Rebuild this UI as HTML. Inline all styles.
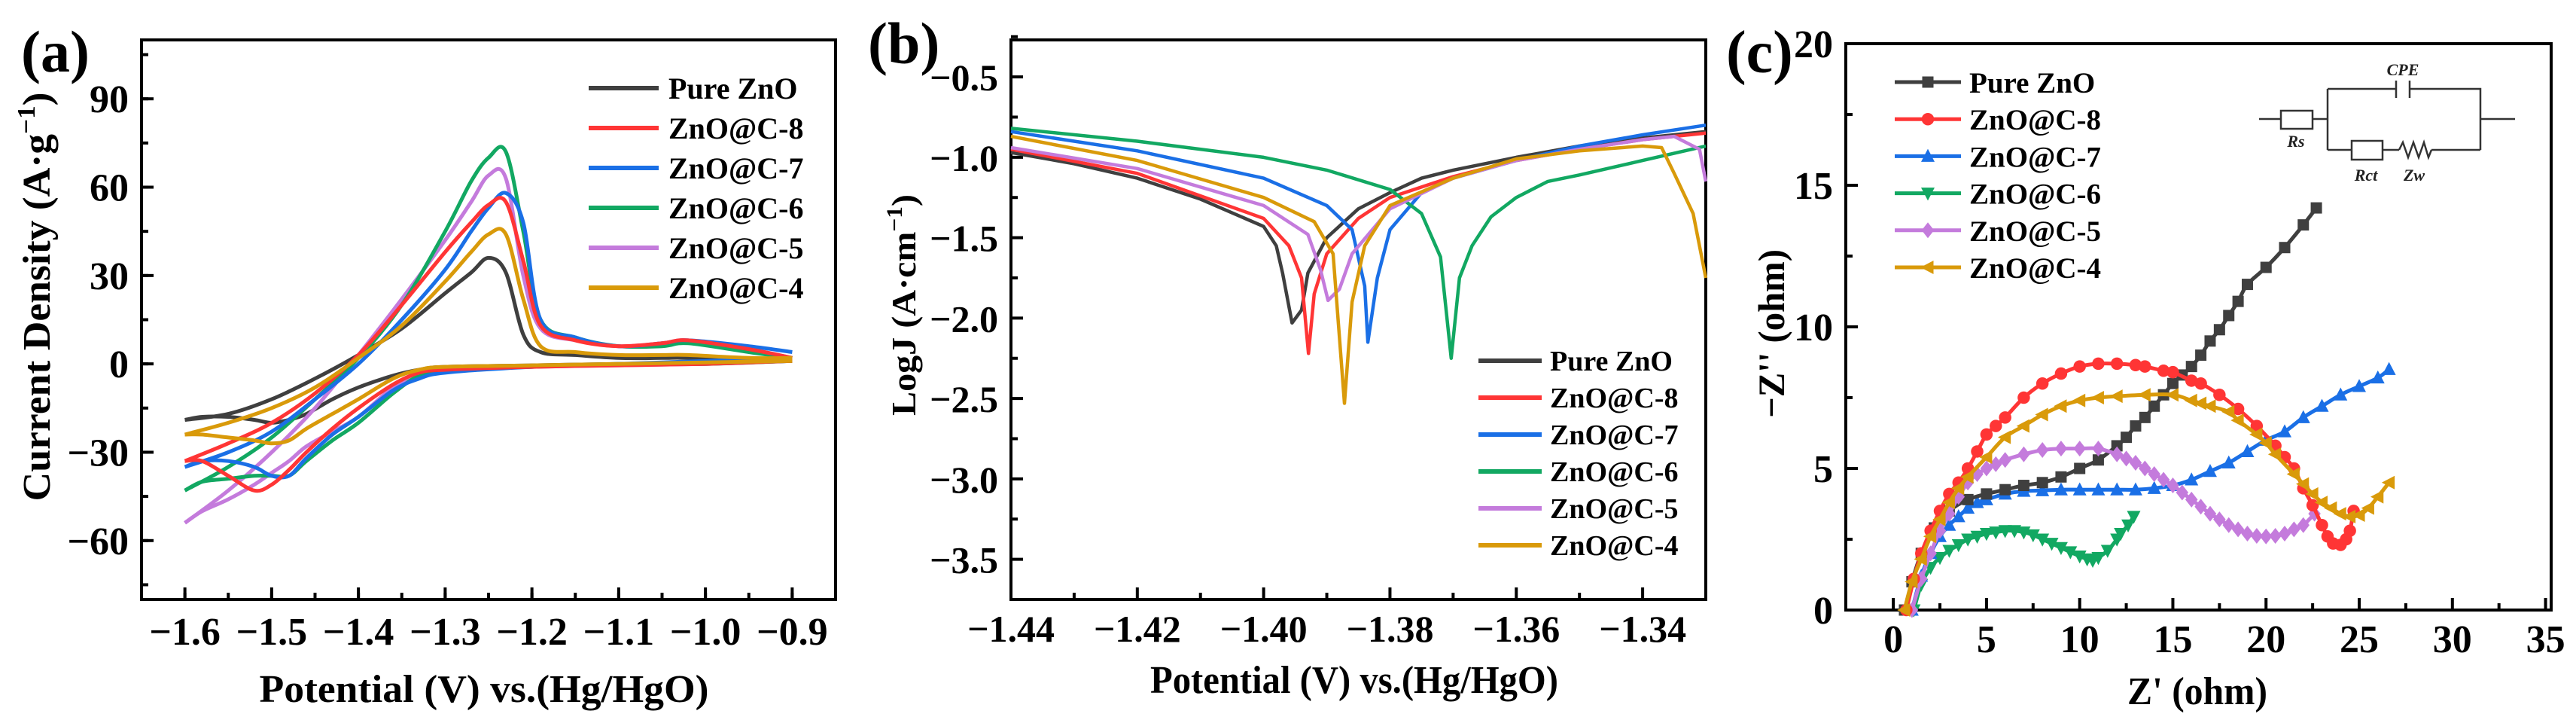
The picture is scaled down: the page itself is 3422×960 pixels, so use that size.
<!DOCTYPE html>
<html><head><meta charset="utf-8"><title>ZnO@C electrochemistry figure</title>
<style>
html,body{margin:0;padding:0;background:#fff;}
svg{display:block;font-family:"Liberation Serif","Times New Roman",Times,serif;font-weight:bold;}
svg text{font-family:"Liberation Serif","Times New Roman",Times,serif;}
</style></head>
<body>
<svg id="fig" width="3422" height="960" viewBox="0 0 3422 960" font-family="Liberation Serif, serif" font-weight="bold" xmlns="http://www.w3.org/2000/svg"></svg>
<script>
// ---------- shared ----------
const seriesNames = ['Pure ZnO','ZnO@C-8','ZnO@C-7','ZnO@C-6','ZnO@C-5','ZnO@C-4'];
const seriesColors = ['#3f3f3f','#ff3535','#1a6fe6','#12a862','#c47bdc','#d99a0a'];
const seriesKeys = ['pure-zno','zno-c-8','zno-c-7','zno-c-6','zno-c-5','zno-c-4'];

// ---------- panel (a) CV data ----------
const cvUpperV = [-1.6,-1.55,-1.5,-1.45,-1.4,-1.35,-1.3,-1.27,-1.25,-1.23,-1.21,-1.19,-1.15,-1.1,-1.05,-1.02,-0.95,-0.9];
const cvUpperPure = [-19,-17,-12,-5,3,12,24,31,36,31,10,4,3,2,2,2,1,1];
const cvUpperC8 = [-33,-27,-20,-10,3,20,38,48,54,55,35,13,8,6,7,8,5,2];
const cvUpperC7 = [-35,-30,-23,-12,0,15,32,45,53,58,48,15,9,6,7,8,6,4];
const cvUpperC6 = [-43,-35,-25,-12,2,20,45,62,70,72,45,15,9,6,6,7,4,2];
const cvUpperC5 = [-54,-43,-30,-15,3,22,42,55,64,63,30,12,8,6,7,8,5,2];
const cvUpperC4 = [-24,-20,-15,-8,2,13,28,38,44,44,22,6,4,3,3,3,2,2];
const cvLowerV = [-0.9,-1.0,-1.1,-1.2,-1.3,-1.33,-1.36,-1.4,-1.43,-1.46,-1.48,-1.5,-1.52,-1.55,-1.58,-1.6];
const cvLowerPure = [1,0.5,0,-0.5,-1,-2,-4,-8,-12,-17,-19,-20,-19,-18,-18,-19];
const cvLowerC8 = [1,0,-0.5,-1,-2,-3,-7,-15,-22,-30,-36,-41,-43,-38,-33,-33];
const cvLowerC7 = [2,1,0,-1,-3,-5,-9,-18,-24,-32,-38,-38,-35,-33,-33,-35];
const cvLowerC6 = [1,0,0,-1,-2,-4,-10,-20,-26,-33,-38,-38,-38,-39,-40,-43];
const cvLowerC5 = [1,0,-0.5,-1,-2,-4,-8,-18,-23,-28,-33,-37,-41,-46,-50,-54];
const cvLowerC4 = [1,0.5,0,-0.5,-1,-2,-5,-12,-17,-22,-26,-27,-26,-25,-24,-24];
const aXTicks = [-1.6,-1.5,-1.4,-1.3,-1.2,-1.1,-1.0,-0.9];
const aYTicks = [-60,-30,0,30,60,90];

// ---------- panel (b) Tafel data ----------
const tafPureX = [-1.44,-1.43,-1.42,-1.41,-1.40,-1.398,-1.397,-1.3955,-1.394,-1.393,-1.39,-1.385,-1.38,-1.375,-1.37,-1.36,-1.35,-1.34,-1.33];
const tafPureY = [-0.97,-1.04,-1.13,-1.26,-1.43,-1.55,-1.72,-2.03,-1.95,-1.72,-1.5,-1.32,-1.22,-1.13,-1.08,-1.0,-0.93,-0.88,-0.84];
const tafC8X = [-1.44,-1.42,-1.40,-1.396,-1.394,-1.3929,-1.392,-1.39,-1.385,-1.38,-1.37,-1.36,-1.35,-1.34,-1.33];
const tafC8Y = [-0.95,-1.1,-1.38,-1.55,-1.75,-2.22,-1.85,-1.6,-1.38,-1.25,-1.12,-1.02,-0.95,-0.89,-0.85];
const tafC7X = [-1.44,-1.42,-1.40,-1.39,-1.386,-1.384,-1.3835,-1.382,-1.38,-1.375,-1.37,-1.36,-1.35,-1.34,-1.33];
const tafC7Y = [-0.84,-0.96,-1.13,-1.3,-1.45,-1.8,-2.15,-1.75,-1.45,-1.22,-1.13,-1.02,-0.93,-0.86,-0.80];
const tafC6X = [-1.44,-1.42,-1.40,-1.39,-1.38,-1.375,-1.372,-1.3703,-1.369,-1.367,-1.364,-1.36,-1.355,-1.35,-1.34,-1.33];
const tafC6Y = [-0.82,-0.9,-1.0,-1.08,-1.2,-1.35,-1.62,-2.25,-1.75,-1.55,-1.37,-1.25,-1.15,-1.11,-1.02,-0.93];
const tafC5X = [-1.44,-1.42,-1.40,-1.393,-1.391,-1.3898,-1.388,-1.386,-1.38,-1.37,-1.36,-1.35,-1.34,-1.335,-1.331,-1.33];
const tafC5Y = [-0.94,-1.07,-1.3,-1.48,-1.7,-1.89,-1.82,-1.6,-1.32,-1.13,-1.02,-0.95,-0.89,-0.87,-0.95,-1.15];
const tafC4X = [-1.44,-1.42,-1.40,-1.392,-1.389,-1.3872,-1.386,-1.384,-1.38,-1.37,-1.36,-1.35,-1.34,-1.337,-1.335,-1.332,-1.33];
const tafC4Y = [-0.87,-1.02,-1.25,-1.4,-1.6,-2.53,-1.9,-1.55,-1.3,-1.13,-1.01,-0.96,-0.93,-0.94,-1.1,-1.35,-1.75];
const bXTicks = [-1.44,-1.42,-1.40,-1.38,-1.36,-1.34];
const bYTicks = [-3.5,-3.0,-2.5,-2.0,-1.5,-1.0,-0.5];

// ---------- panel (c) Nyquist data ----------
const nyqPureX = [0.6,1.0,1.5,2.2,3,4,5,6,7,8,9,10,11,12,12.5,13,13.5,14,14.5,15,15.5,16,16.5,17,17.5,18,18.5,19,20,21,22,22.7];
const nyqPureY = [0,1,2,2.9,3.5,3.9,4.1,4.25,4.4,4.5,4.7,5,5.3,5.8,6.1,6.5,6.8,7.2,7.6,8,8.3,8.6,9.0,9.5,9.9,10.4,10.9,11.5,12.1,12.8,13.6,14.2];
const nyqC8X = [0.7,1.1,1.5,2,2.5,3,3.5,4,4.5,5,5.5,6,7,8,9,10,11,12,13,13.5,14.5,15,16,16.5,17.5,18.5,19.5,20.5,21,21.5,22,22.5,23,23.3,23.6,24,24.3,24.5,24.7];
const nyqC8Y = [0,1.1,2,2.8,3.5,4.1,4.5,5,5.6,6.2,6.5,6.8,7.5,8,8.35,8.6,8.7,8.7,8.65,8.6,8.45,8.4,8.1,8,7.6,7.1,6.5,5.8,5.4,5,4.3,3.7,3,2.6,2.35,2.3,2.5,2.8,3.5];
const nyqC7X = [1,1.5,2,2.5,3,3.5,4,4.5,5,6,7,8,9,10,11,12,13,14,15,16,17,18,19,20,21,22,23,24,25,26,26.6];
const nyqC7Y = [0,1.2,2,2.6,3,3.3,3.6,3.8,3.9,4.1,4.2,4.22,4.25,4.25,4.25,4.25,4.25,4.3,4.4,4.6,4.9,5.2,5.6,6,6.3,6.8,7.2,7.6,7.9,8.2,8.5];
const nyqC6X = [1.1,1.5,2,2.5,3,3.5,4,4.5,5,5.5,6,6.5,7,7.5,8,8.5,9,9.5,10,10.4,10.7,11,11.5,12,12.2,12.6,12.9];
const nyqC6Y = [0,0.9,1.5,1.85,2.1,2.3,2.5,2.6,2.7,2.75,2.8,2.8,2.75,2.65,2.5,2.35,2.2,2.05,1.9,1.8,1.75,1.85,2.1,2.5,2.7,3.0,3.3];
const nyqC5X = [1,1.5,2,2.5,3,3.5,4,4.5,5,5.5,6,7,8,9,10,11,12,12.5,13,13.5,14,14.5,15,15.5,16,16.5,17,17.5,18,18.5,19,19.5,20,20.5,21,21.5,22,22.6];
const nyqC5Y = [0,1.1,2,2.8,3.4,4,4.5,4.8,5,5.15,5.3,5.5,5.65,5.7,5.7,5.7,5.5,5.35,5.2,5.0,4.8,4.6,4.4,4.15,3.9,3.65,3.4,3.2,3,2.85,2.7,2.62,2.6,2.62,2.7,2.85,3.0,3.4];
const nyqC4X = [0.6,1,1.5,2,2.5,3,3.5,4,5,6,7,8,9,10,11,12,13.5,15,16,16.5,17,18,18.5,19.5,20,20.5,21.5,22,22.5,23,23.5,24,24.5,25,25.5,26,26.6];
const nyqC4Y = [0,1,1.8,2.6,3.2,3.8,4.3,4.7,5.4,6.1,6.5,6.9,7.2,7.4,7.5,7.55,7.6,7.6,7.4,7.3,7.2,7,6.7,6.2,5.9,5.5,4.8,4.45,4.1,3.8,3.6,3.4,3.3,3.35,3.6,4.0,4.5];
const cXTicks = [0,5,10,15,20,25,30,35];
const cYTicks = [0,5,10,15,20];

// ---------- helpers ----------
const NS = 'http://www.w3.org/2000/svg';
const svg = document.getElementById('fig');
function mk(tag, attrs, parent, text){
  const e = document.createElementNS(NS, tag);
  for (const k in attrs) e.setAttribute(k, attrs[k]);
  if (text !== undefined) e.textContent = text;
  (parent || svg).appendChild(e);
  return e;
}
function lin(d0,d1,p0,p1){ return v => p0 + (v-d0)/(d1-d0)*(p1-p0); }
function fmt(v, dec){ const s = v.toFixed(dec); return s.replace('-', '\u2212'); }
function smoothPath(pts){
  let d = 'M' + pts[0][0].toFixed(1) + ',' + pts[0][1].toFixed(1);
  for (let i=0;i<pts.length-1;i++){
    const p0 = pts[i-1]||pts[i], p1 = pts[i], p2 = pts[i+1], p3 = pts[i+2]||p2;
    const c1x = p1[0]+(p2[0]-p0[0])/6, c1y = p1[1]+(p2[1]-p0[1])/6;
    const c2x = p2[0]-(p3[0]-p1[0])/6, c2y = p2[1]-(p3[1]-p1[1])/6;
    d += ' C'+c1x.toFixed(1)+','+c1y.toFixed(1)+' '+c2x.toFixed(1)+','+c2y.toFixed(1)+' '+p2[0].toFixed(1)+','+p2[1].toFixed(1);
  }
  return d;
}
function linePath(pts){ return pts.map((p,i)=>(i?'L':'M')+p[0].toFixed(1)+','+p[1].toFixed(1)).join(' '); }

function drawAxes(g, box, sx, sy, xt, xminor, yt, yminor, xdec, ydec, fs, xLabBase, key){
  for (const v of xminor){
    const t = mk('line',{x1:sx(v),x2:sx(v),y1:box.b,y2:box.b-9,stroke:'#000','stroke-width':4},g);
    
    
  }
  for (const v of yminor){
    const t = mk('line',{x1:box.l,x2:box.l+9,y1:sy(v),y2:sy(v),stroke:'#000','stroke-width':4},g);
    
    
  }
  for (const v of xt){
    const t = mk('line',{x1:sx(v),x2:sx(v),y1:box.b,y2:box.b-16,stroke:'#000','stroke-width':4},g);
    
    
    const l = mk('text',{x:sx(v),y:xLabBase,'text-anchor':'middle','font-size':fs},g,fmt(v,xdec));
    
    
  }
  for (const v of yt){
    const t = mk('line',{x1:box.l,x2:box.l+16,y1:sy(v),y2:sy(v),stroke:'#000','stroke-width':4},g);
    
    
    const l = mk('text',{x:box.l-17,y:sy(v)+18,'text-anchor':'end','font-size':fs},g,fmt(v,ydec));
    
    
  }
  const r = mk('rect',{x:box.l,y:box.t,width:box.r-box.l,height:box.b-box.t,fill:'none',stroke:'#000','stroke-width':4},g);
  
  
}
function range(a,b,step){ const out=[]; for(let v=a; v<=b+1e-9; v+=step) out.push(Math.round(v*1e6)/1e6); return out; }

// ================= PANEL A =================
const gA = mk('g',{});


const boxA = {l:188,r:1110,t:53,b:796};
const sxA = lin(-1.65,-0.85,boxA.l,boxA.r);
const syA = lin(-80,110,boxA.b,boxA.t);
drawAxes(gA, boxA, sxA, syA, aXTicks, range(-1.65,-0.85,0.05), aYTicks, range(-75,105,15), 1, 0, 52, 856, 'panel-a');
const cvUp = [cvUpperPure,cvUpperC8,cvUpperC7,cvUpperC6,cvUpperC5,cvUpperC4];
const cvLo = [cvLowerPure,cvLowerC8,cvLowerC7,cvLowerC6,cvLowerC5,cvLowerC4];
const drawOrderA = [0,4,3,2,1,5];
for (const i of drawOrderA){
  const up = cvUpperV.map((v,j)=>[sxA(v),syA(cvUp[i][j])]);
  const lo = cvLowerV.map((v,j)=>[sxA(v),syA(cvLo[i][j])]);
  const p1 = mk('path',{d:smoothPath(up),fill:'none',stroke:seriesColors[i],'stroke-width':5,'stroke-linejoin':'round'},gA);
  
  
  const p2 = mk('path',{d:smoothPath(lo),fill:'none',stroke:seriesColors[i],'stroke-width':5,'stroke-linejoin':'round'},gA);
  
  
}
for (let i=0;i<6;i++){
  const y = 117 + i*53;
  const ln = mk('line',{x1:782,x2:875,y1:y,y2:y,stroke:seriesColors[i],'stroke-width':6},gA);
  
  
  const tx = mk('text',{x:888,y:y+14,'font-size':40},gA,seriesNames[i]);
  
  
}
const aLab = mk('text',{x:28,y:95,'font-size':78},gA,'(a)');


const aXT = mk('text',{x:643,y:932,'text-anchor':'middle','font-size':52,textLength:597,lengthAdjust:'spacingAndGlyphs'},gA,'Potential (V) vs.(Hg/HgO)');


const aYT = mk('text',{x:0,y:0,'text-anchor':'middle','font-size':52,textLength:543,lengthAdjust:'spacingAndGlyphs',transform:'translate(66,394) rotate(-90)'},gA);


mk('tspan',{},aYT,'Current Density (A\u00b7g');
mk('tspan',{dy:-20,'font-size':34},aYT,'\u22121');
mk('tspan',{dy:20},aYT,')');

// ================= PANEL B =================
const gB = mk('g',{});


const boxB = {l:1343,r:2266,t:53,b:796};
const sxB = lin(-1.44,-1.33,boxB.l,boxB.r);
const syB = lin(-3.75,-0.27,boxB.b,boxB.t);
drawAxes(gB, boxB, sxB, syB, bXTicks, range(-1.43,-1.33,0.02), bYTicks, range(-3.75,-0.25,0.5), 2, 1, 50, 852, 'panel-b');
const tafX = [tafPureX,tafC8X,tafC7X,tafC6X,tafC5X,tafC4X];
const tafY = [tafPureY,tafC8Y,tafC7Y,tafC6Y,tafC5Y,tafC4Y];
for (let i=0;i<6;i++){
  const pts = tafX[i].map((v,j)=>[sxB(v),syB(tafY[i][j])]);
  const p = mk('path',{d:linePath(pts),fill:'none',stroke:seriesColors[i],'stroke-width':4.5,'stroke-linejoin':'round'},gB);
  
  
}
for (let i=0;i<6;i++){
  const y = 479 + i*49;
  const ln = mk('line',{x1:1964,x2:2048,y1:y,y2:y,stroke:seriesColors[i],'stroke-width':6},gB);
  
  
  const tx = mk('text',{x:2059,y:y+13,'font-size':38},gB,seriesNames[i]);
  
  
}
const bLab = mk('text',{x:1153,y:84,'font-size':78},gB,'(b)');


const bXT = mk('text',{x:1799,y:920,'text-anchor':'middle','font-size':52,textLength:542,lengthAdjust:'spacingAndGlyphs'},gB,'Potential (V) vs.(Hg/HgO)');


const bYT = mk('text',{x:0,y:0,'text-anchor':'middle','font-size':46,textLength:294,lengthAdjust:'spacingAndGlyphs',transform:'translate(1216,405) rotate(-90)'},gB);


mk('tspan',{},bYT,'LogJ (A\u00b7cm');
mk('tspan',{dy:-18,'font-size':30},bYT,'\u22121');
mk('tspan',{dy:18},bYT,')');

// ================= PANEL C =================
const gC = mk('g',{});


const boxC = {l:2452,r:3389,t:58,b:810};
const sxC = lin(-2.55,35.3,boxC.l,boxC.r);
const syC = lin(0,20,boxC.b,boxC.t);
drawAxes(gC, boxC, sxC, syC, cXTicks, range(2.5,32.5,5), cYTicks, range(2.5,17.5,5), 0, 0, 52, 866, 'panel-c');
function marker(g, kind, x, y, color, s){
  let e;
  if (kind==='square') e = mk('rect',{x:x-s,y:y-s,width:2*s,height:2*s,fill:color},g);
  else if (kind==='circle') e = mk('circle',{cx:x,cy:y,r:s*1.1,fill:color},g);
  else if (kind==='up') e = mk('polygon',{points:`${x},${y-s*1.3} ${x+s*1.2},${y+s} ${x-s*1.2},${y+s}`,fill:color},g);
  else if (kind==='down') e = mk('polygon',{points:`${x},${y+s*1.3} ${x+s*1.2},${y-s} ${x-s*1.2},${y-s}`,fill:color},g);
  else if (kind==='diamond') e = mk('polygon',{points:`${x},${y-s*1.4} ${x+s*1.1},${y} ${x},${y+s*1.4} ${x-s*1.1},${y}`,fill:color},g);
  else e = mk('polygon',{points:`${x-s*1.3},${y} ${x+s},${y-s*1.2} ${x+s},${y+s*1.2}`,fill:color},g);
  return e;
}
const markerKinds = ['square','circle','up','down','diamond','left'];
const nyqX = [nyqPureX,nyqC8X,nyqC7X,nyqC6X,nyqC5X,nyqC4X];
const nyqY = [nyqPureY,nyqC8Y,nyqC7Y,nyqC6Y,nyqC5Y,nyqC4Y];
const drawOrderC = [3,2,0,4,1,5];
for (const i of drawOrderC){
  const pts = nyqX[i].map((v,j)=>[sxC(v),syC(nyqY[i][j])]);
  const p = mk('path',{d:smoothPath(pts),fill:'none',stroke:seriesColors[i],'stroke-width':5,'stroke-linejoin':'round'},gC);
  
  
  for (const pt of pts){
    const m = marker(gC, markerKinds[i], pt[0], pt[1], seriesColors[i], 7.5);
    
    
  }
}
for (let i=0;i<6;i++){
  const y = 109 + i*49.2;
  const ln = mk('line',{x1:2517,x2:2605,y1:y,y2:y,stroke:seriesColors[i],'stroke-width':5},gC);
  
  
  const m = marker(gC, markerKinds[i], 2561, y, seriesColors[i], 7.5);
  
  
  const tx = mk('text',{x:2616,y:y+14,'font-size':39},gC,seriesNames[i]);
  
  
}
const cLab = mk('text',{x:2293,y:96,'font-size':80},gC,'(c)');


const cXT = mk('text',{x:2919,y:935,'text-anchor':'middle','font-size':52,textLength:186,lengthAdjust:'spacingAndGlyphs'},gC,"Z' (ohm)");


const cYT = mk('text',{x:0,y:0,'text-anchor':'middle','font-size':50,textLength:224,lengthAdjust:'spacingAndGlyphs',transform:'translate(2370,443) rotate(-90)'},gC,"\u2212Z'' (ohm)");



// equivalent circuit inset
const gCir = mk('g',{stroke:'#333','stroke-width':2.5,fill:'none'},gC);


mk('path',{d:'M3001,158 H3030 M3072,158 H3092 M3092,118 V199 M3092,118 H3183 M3201,118 H3295 V199 M3295,158 H3341 M3092,199 H3124 M3165,199 H3187 M3230,199 H3295'},gCir);
mk('rect',{x:3030,y:147,width:42,height:24},gCir);
mk('rect',{x:3124,y:187,width:41,height:25},gCir);
mk('path',{d:'M3183,107 V130 M3201,107 V130'},gCir);
mk('path',{d:'M3187,199 L3192,189 L3199,209 L3206,189 L3213,209 L3220,189 L3226,209 L3230,199'},gCir);
const cirLabels = [['CPE',3192,100],['Rs',3050,195],['Rct',3143,240],['Zw',3207,240]];
for (const c of cirLabels){
  const t = mk('text',{x:c[1],y:c[2],'text-anchor':'middle','font-size':22,'font-style':'italic',fill:'#222',stroke:'none'},gCir,c[0]);
  
  
}
</script>
</body></html>
